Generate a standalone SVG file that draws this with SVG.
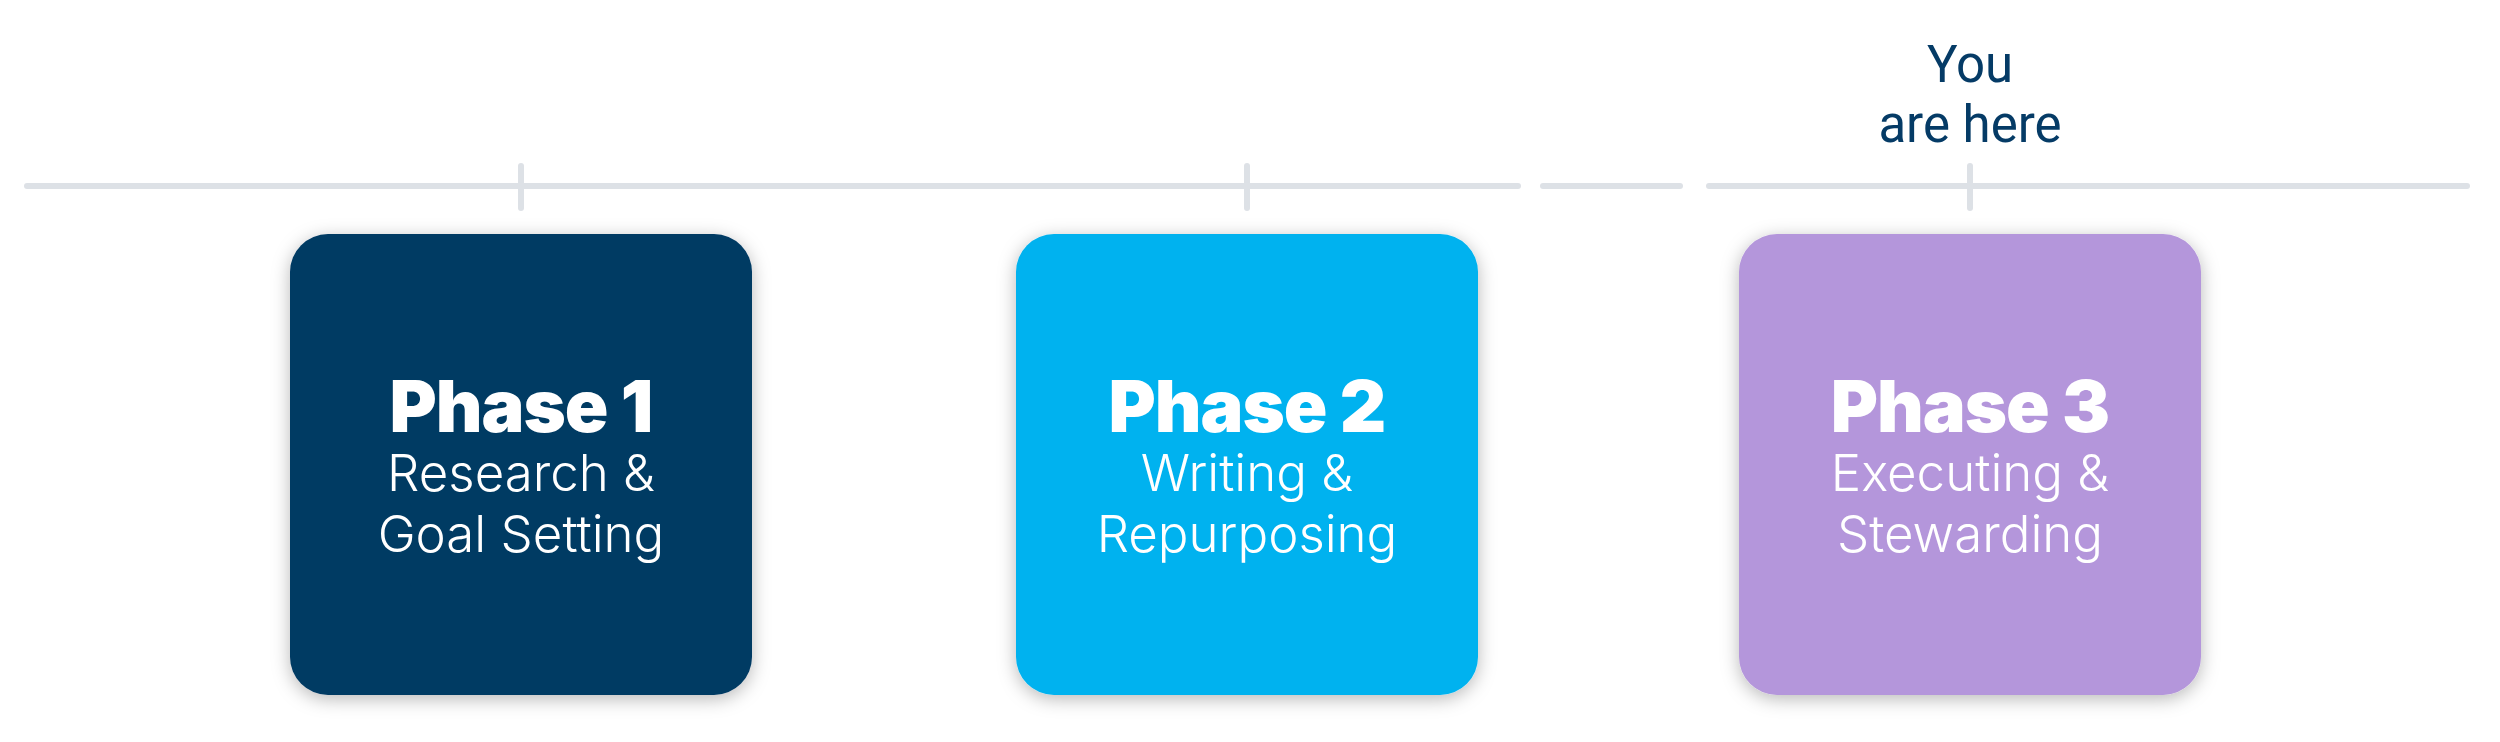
<svg xmlns="http://www.w3.org/2000/svg" width="2500" height="742" viewBox="0 0 2500 742">
<defs>
<filter id="sh" x="-20%" y="-20%" width="140%" height="140%">
<feDropShadow dx="0" dy="4" stdDeviation="9" flood-color="#000" flood-opacity="0.28"/>
</filter>
<style>
.tl{stroke:#dde1e6;stroke-width:6;stroke-linecap:round;fill:none}
.box{filter:url(#sh)}
.h{font-family:Inter,"Liberation Sans",sans-serif;font-weight:900;font-size:72px;fill:#fff;text-anchor:middle;letter-spacing:-1px}
.s{font-family:Inter,"Liberation Sans",sans-serif;font-weight:300;font-size:51px;fill:#fff;text-anchor:middle}
.y{font-family:Roboto,"Liberation Sans",sans-serif;font-size:51px;fill:#053b66;text-anchor:middle}
</style>
</defs>
<rect width="2500" height="742" fill="#fff"/>
<g id="connectors">
<line class="tl" x1="27" y1="186" x2="1518" y2="186"/>
<line class="tl" x1="1543" y1="186" x2="1680" y2="186"/>
<line class="tl" x1="1709" y1="186" x2="2467" y2="186"/>
<line class="tl" x1="521" y1="166" x2="521" y2="208"/>
<line class="tl" x1="1247" y1="166" x2="1247" y2="208"/>
<line class="tl" x1="1970" y1="166" x2="1970" y2="208"/>
</g>
<g id="you-are-here">
<text class="y" x="1970" y="82">You</text>
<text class="y" x="1970" y="142">are here</text>
</g>
<g id="phase1">
<rect class="box" x="290" y="234" width="462" height="461" rx="38" fill="#033a63"/>
<text class="h" x="521" y="432">Phase 1</text>
<text class="s" x="521" y="491">Research &amp;</text>
<text class="s" x="521" y="552">Goal Setting</text>
</g>
<g id="phase2">
<rect class="box" x="1016" y="234" width="462" height="461" rx="38" fill="#00b2ef"/>
<text class="h" x="1247" y="432">Phase 2</text>
<text class="s" x="1247" y="491">Writing &amp;</text>
<text class="s" x="1247" y="552">Repurposing</text>
</g>
<g id="phase3">
<rect class="box" x="1739" y="234" width="462" height="461" rx="38" fill="#b496db"/>
<text class="h" x="1970" y="432">Phase 3</text>
<text class="s" x="1970" y="491">Executing &amp;</text>
<text class="s" x="1970" y="552">Stewarding</text>
</g>
</svg>
